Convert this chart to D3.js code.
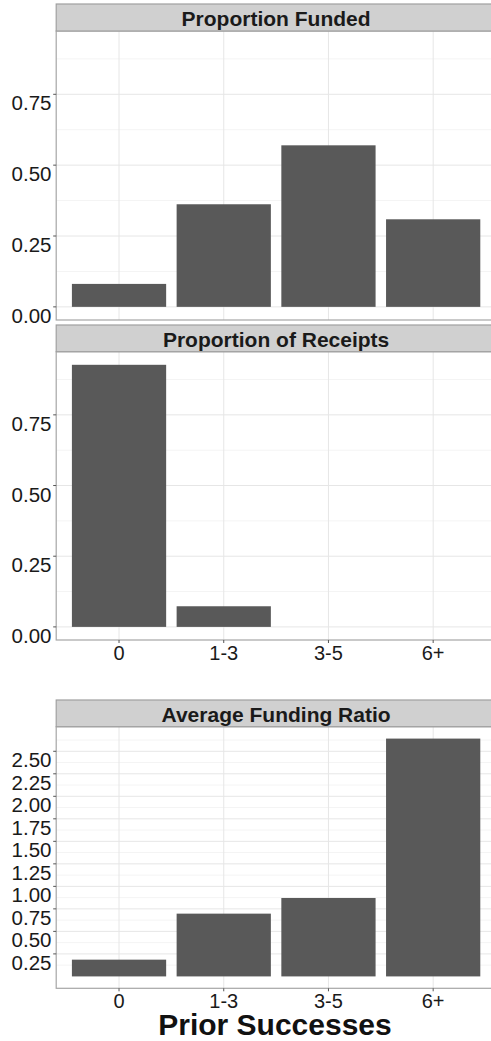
<!DOCTYPE html>
<html>
<head>
<meta charset="utf-8">
<script src="https://cdn.jsdelivr.net/npm/d3@7"></script>
<style>
  html, body { margin: 0; padding: 0; background: #ffffff; }
  svg { display: block; }
  text { font-family: "Liberation Sans", Arial, sans-serif; }
</style>
</head>
<body>
<svg id="chart" width="491" height="1041"></svg>
<script>
// ---- data ----
const categories = ["0", "1-3", "3-5", "6+"];
const fundedValues = [0.081, 0.362, 0.570, 0.309];
const receiptsValues = [0.927, 0.073, 0.0, 0.0];
const ratioValues = [0.186, 0.697, 0.871, 2.641];
const propTicks = [0, 0.25, 0.5, 0.75];
const propMinor = [0.125, 0.375, 0.625, 0.875];
const ratioTicks = [0.25, 0.5, 0.75, 1.0, 1.25, 1.5, 1.75, 2.0, 2.25, 2.5];
const ratioMinor = [0.125, 0.375, 0.625, 0.875, 1.125, 1.375, 1.625, 1.875, 2.125, 2.375, 2.625];
const stripTitles = ["Proportion Funded", "Proportion of Receipts", "Average Funding Ratio"];
const xTitle = "Prior Successes";

const svg = d3.select("#chart");
const left = 56.2, right = 496;

const x = d3.scaleBand().domain(categories).range([left, right])
  .paddingInner(0.1).paddingOuter(0.15);

const propMax = d3.max(fundedValues.concat(receiptsValues));
const ratioMax = d3.max(ratioValues);

const panels = [
  { title: stripTitles[0], values: fundedValues, stripTop: 4, top: 31, bottom: 320,
    domain: [-0.05 * propMax, propMax * 1.05], ticks: propTicks, minor: propMinor, xlabels: false },
  { title: stripTitles[1], values: receiptsValues, stripTop: 325, top: 351.7, bottom: 640,
    domain: [-0.05 * propMax, propMax * 1.05], ticks: propTicks, minor: propMinor, xlabels: true },
  { title: stripTitles[2], values: ratioValues, stripTop: 700, top: 726.7, bottom: 988.3,
    domain: [-0.05 * ratioMax, ratioMax * 1.05], ticks: ratioTicks, minor: ratioMinor, xlabels: true }
];

panels.forEach(p => {
  const y = d3.scaleLinear().domain(p.domain).range([p.bottom, p.top]);
  const g = svg.append("g");

  g.append("rect").attr("x", left).attr("y", p.top).attr("width", right - left)
    .attr("height", p.bottom - p.top).attr("fill", "#ffffff");

  g.selectAll(".minor").data(p.minor).enter().append("line")
    .attr("x1", left).attr("x2", right)
    .attr("y1", d => y(d)).attr("y2", d => y(d))
    .attr("stroke", "#f4f4f4").attr("stroke-width", 1);

  g.selectAll(".major").data(p.ticks).enter().append("line")
    .attr("x1", left).attr("x2", right)
    .attr("y1", d => y(d)).attr("y2", d => y(d))
    .attr("stroke", "#e6e6e6").attr("stroke-width", 1);

  g.selectAll(".vgrid").data(categories).enter().append("line")
    .attr("x1", d => x(d) + x.bandwidth() / 2).attr("x2", d => x(d) + x.bandwidth() / 2)
    .attr("y1", p.top).attr("y2", p.bottom)
    .attr("stroke", "#e6e6e6").attr("stroke-width", 1);

  g.selectAll(".bar").data(categories).enter().append("rect")
    .attr("x", d => x(d))
    .attr("width", x.bandwidth())
    .attr("y", (d, i) => y(Math.max(0, p.values[i])))
    .attr("height", (d, i) => Math.abs(y(0) - y(p.values[i])))
    .attr("fill", "#595959");

  g.append("rect").attr("x", left).attr("y", p.top).attr("width", right - left)
    .attr("height", p.bottom - p.top).attr("fill", "none")
    .attr("stroke", "#a6a6a6").attr("stroke-width", 1.2);

  g.append("rect").attr("x", left).attr("y", p.stripTop).attr("width", right - left)
    .attr("height", p.top - p.stripTop).attr("fill", "#d0d0d0")
    .attr("stroke", "#a0a0a0").attr("stroke-width", 1.2);
  g.append("text").attr("x", (left + right) / 2).attr("y", p.stripTop + 22.3)
    .attr("text-anchor", "middle").attr("font-size", 21).attr("font-weight", "bold")
    .attr("fill", "#1a1a1a").text(p.title);

  g.selectAll(".ytick").data(p.ticks).enter().append("line")
    .attr("x1", left - 3).attr("x2", left)
    .attr("y1", d => y(d)).attr("y2", d => y(d))
    .attr("stroke", "#555555").attr("stroke-width", 1);
  g.selectAll(".ylab").data(p.ticks).enter().append("text")
    .attr("x", 51.5).attr("y", d => y(d) + 16)
    .attr("text-anchor", "end").attr("font-size", 20.5).attr("fill", "#1a1a1a")
    .text(d => d3.format(".2f")(d));

  if (p.xlabels) {
    g.selectAll(".xtick").data(categories).enter().append("line")
      .attr("x1", d => x(d) + x.bandwidth() / 2).attr("x2", d => x(d) + x.bandwidth() / 2)
      .attr("y1", p.bottom).attr("y2", p.bottom + 3)
      .attr("stroke", "#555555").attr("stroke-width", 1);
    g.selectAll(".xlab").data(categories).enter().append("text")
      .attr("x", d => x(d) + x.bandwidth() / 2).attr("y", p.bottom + 20)
      .attr("text-anchor", "middle").attr("font-size", 20).attr("fill", "#1a1a1a")
      .text(d => d);
  }
});

svg.append("text").attr("x", 275).attr("y", 1034.5)
  .attr("text-anchor", "middle").attr("font-size", 30).attr("font-weight", "bold")
  .attr("fill", "#111111").text(xTitle);
</script>
</body>
</html>
